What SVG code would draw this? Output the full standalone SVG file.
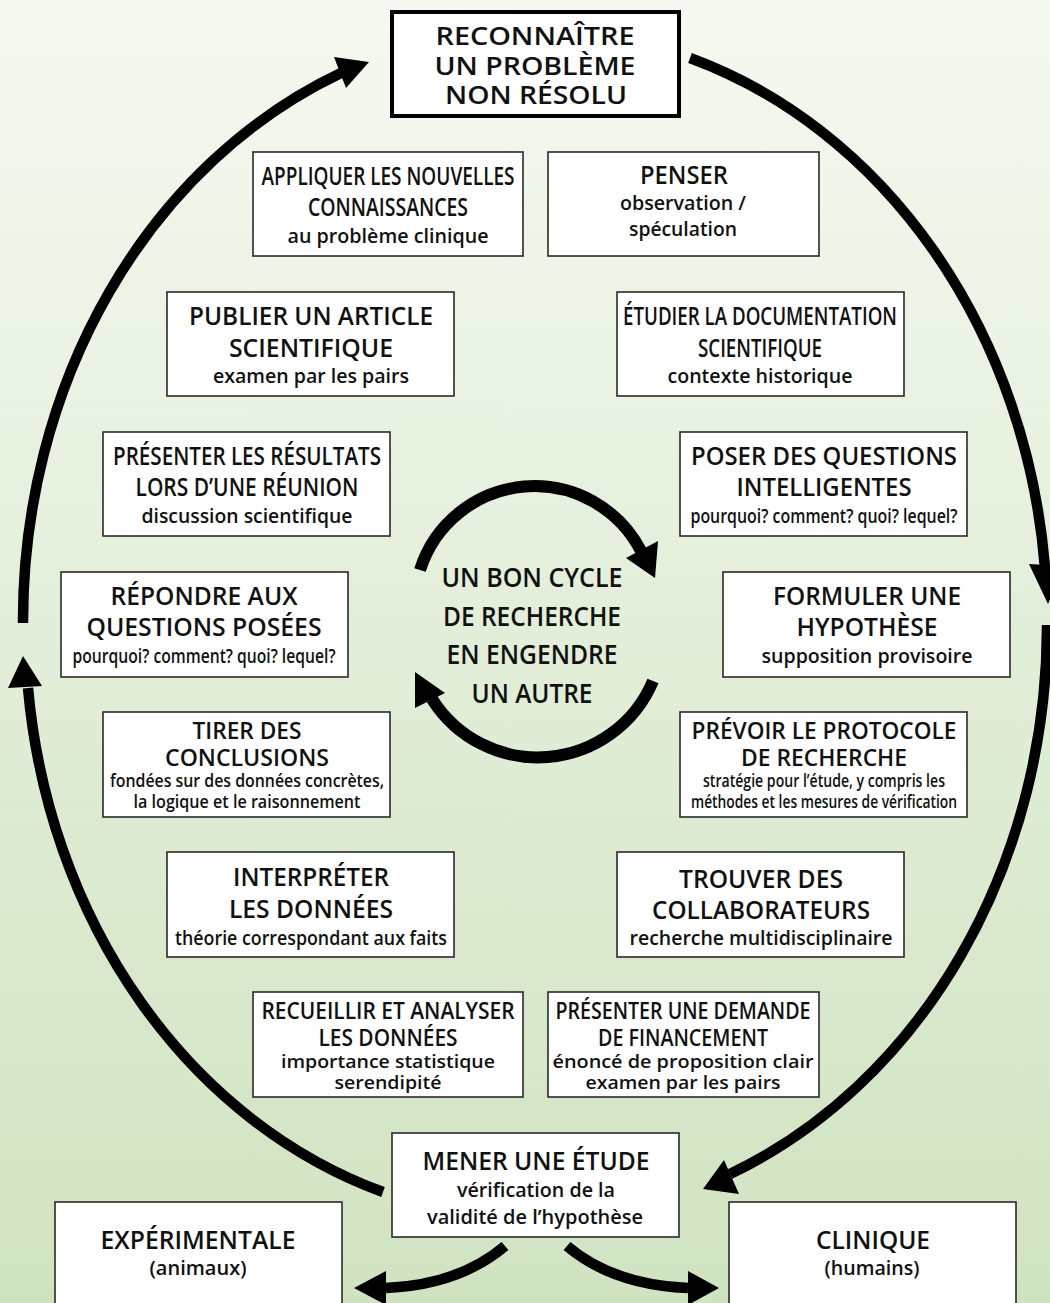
<svg xmlns="http://www.w3.org/2000/svg" width="1050" height="1303" viewBox="0 0 1050 1303">
<defs>
<linearGradient id="bg" x1="0" y1="0" x2="0" y2="1">
<stop offset="0" stop-color="#f5f9f1"/>
<stop offset="1" stop-color="#d0e3c1"/>
</linearGradient>
<style>
.box{fill:#fff;stroke:#2a2a2a;stroke-width:1.6}
.main{fill:#fff;stroke:#000;stroke-width:4}
text{font-family:"Open Sans","Noto Sans","DejaVu Sans",sans-serif;font-weight:600;fill:#111;text-anchor:middle}
.t{font-size:25px}
.s{font-size:20px}
.t4{font-size:23px}
.s4{font-size:18px}
.c{font-size:27px}
.arc{fill:none;stroke:#000;stroke-width:10.5}
.carc{fill:none;stroke:#000;stroke-width:12}
.head{fill:#000}
</style>
</defs>
<rect x="0" y="0" width="1050" height="1303" fill="url(#bg)"/>

<g id="connectors">
<path class="arc" d="M690,58 A512,592 0 0 1 1045,568"/>
<polygon class="head" points="1029,564 1064,566 1048,604"/>
<path class="arc" d="M1047,625 A512,592 0 0 1 730,1174"/>
<polygon class="head" points="724,1160 739,1194 703,1189"/>
<path class="arc" d="M383,1192 A512,592 0 0 1 28,688"/>
<polygon class="head" points="8,688 42,686 23,656"/>
<path class="arc" d="M23,623 A512,592 0 0 1 341,73"/>
<polygon class="head" points="334,57 346,88 369,62"/>
<path class="carc" d="M420,570 A120,120 0 0 1 641,551"/>
<polygon class="head" points="626,558 658,541 655,578"/>
<path class="carc" d="M653,681 A125,125 0 0 1 432,699"/>
<polygon class="head" points="445,693 415,708 415,672"/>
<path class="arc" d="M505,1246 C472,1274 432,1286 386,1288"/>
<polygon class="head" points="386,1271 386,1305 354,1288"/>
<path class="arc" d="M567,1246 C600,1274 640,1286 688,1288"/>
<polygon class="head" points="688,1271 688,1305 719,1288"/>
</g>

<g id="reconnaitre">
<rect class="main" x="392" y="12" width="287" height="104"/>
<text class="t" x="535" y="45" textLength="199" lengthAdjust="spacingAndGlyphs">RECONNAÎTRE</text>
<text class="t" x="535" y="75" textLength="201" lengthAdjust="spacingAndGlyphs">UN PROBLÈME</text>
<text class="t" x="536" y="104" textLength="182" lengthAdjust="spacingAndGlyphs">NON RÉSOLU</text>
</g>

<g id="appliquer">
<rect class="box" x="253" y="152" width="270" height="104"/>
<text class="t" x="388" y="185" textLength="253" lengthAdjust="spacingAndGlyphs">APPLIQUER LES NOUVELLES</text>
<text class="t" x="388" y="216" textLength="160" lengthAdjust="spacingAndGlyphs">CONNAISSANCES</text>
<text class="s" x="388" y="243" textLength="201" lengthAdjust="spacingAndGlyphs">au problème clinique</text>
</g>

<g id="penser">
<rect class="box" x="548" y="152" width="271" height="104"/>
<text class="t" x="684" y="184" textLength="88" lengthAdjust="spacingAndGlyphs">PENSER</text>
<text class="s" x="683" y="210" textLength="126" lengthAdjust="spacingAndGlyphs">observation /</text>
<text class="s" x="683" y="236" textLength="108" lengthAdjust="spacingAndGlyphs">spéculation</text>
</g>

<g id="publier">
<rect class="box" x="167" y="292" width="287" height="104"/>
<text class="t" x="311" y="325" textLength="244" lengthAdjust="spacingAndGlyphs">PUBLIER UN ARTICLE</text>
<text class="t" x="311" y="357" textLength="164" lengthAdjust="spacingAndGlyphs">SCIENTIFIQUE</text>
<text class="s" x="311" y="383" textLength="196" lengthAdjust="spacingAndGlyphs">examen par les pairs</text>
</g>

<g id="etudier">
<rect class="box" x="617" y="292" width="287" height="104"/>
<text class="t" x="760" y="325" textLength="274" lengthAdjust="spacingAndGlyphs">ÉTUDIER LA DOCUMENTATION</text>
<text class="t" x="760" y="357" textLength="124" lengthAdjust="spacingAndGlyphs">SCIENTIFIQUE</text>
<text class="s" x="760" y="383" textLength="185" lengthAdjust="spacingAndGlyphs">contexte historique</text>
</g>

<g id="presenter-resultats">
<rect class="box" x="103" y="432" width="287" height="104"/>
<text class="t" x="247" y="465" textLength="268" lengthAdjust="spacingAndGlyphs">PRÉSENTER LES RÉSULTATS</text>
<text class="t" x="247" y="496" textLength="223" lengthAdjust="spacingAndGlyphs">LORS D’UNE RÉUNION</text>
<text class="s" x="247" y="523" textLength="211" lengthAdjust="spacingAndGlyphs">discussion scientifique</text>
</g>

<g id="poser">
<rect class="box" x="680" y="432" width="287" height="104"/>
<text class="t" x="824" y="465" textLength="266" lengthAdjust="spacingAndGlyphs">POSER DES QUESTIONS</text>
<text class="t" x="824" y="496" textLength="175" lengthAdjust="spacingAndGlyphs">INTELLIGENTES</text>
<text class="s" x="824" y="523" textLength="267" lengthAdjust="spacingAndGlyphs">pourquoi? comment? quoi? lequel?</text>
</g>

<g id="repondre">
<rect class="box" x="61" y="572" width="287" height="105"/>
<text class="t" x="204" y="605" textLength="187" lengthAdjust="spacingAndGlyphs">RÉPONDRE AUX</text>
<text class="t" x="204" y="636" textLength="235" lengthAdjust="spacingAndGlyphs">QUESTIONS POSÉES</text>
<text class="s" x="204" y="663" textLength="263" lengthAdjust="spacingAndGlyphs">pourquoi? comment? quoi? lequel?</text>
</g>

<g id="formuler">
<rect class="box" x="723" y="572" width="287" height="105"/>
<text class="t" x="867" y="605" textLength="188" lengthAdjust="spacingAndGlyphs">FORMULER UNE</text>
<text class="t" x="867" y="636" textLength="141" lengthAdjust="spacingAndGlyphs">HYPOTHÈSE</text>
<text class="s" x="867" y="663" textLength="211" lengthAdjust="spacingAndGlyphs">supposition provisoire</text>
</g>

<g id="tirer">
<rect class="box" x="103" y="712" width="287" height="105"/>
<text class="t4" x="247" y="739" textLength="109" lengthAdjust="spacingAndGlyphs">TIRER DES</text>
<text class="t4" x="247" y="766" textLength="164" lengthAdjust="spacingAndGlyphs">CONCLUSIONS</text>
<text class="s4" x="247" y="787" textLength="274" lengthAdjust="spacingAndGlyphs">fondées sur des données concrètes,</text>
<text class="s4" x="247" y="808" textLength="227" lengthAdjust="spacingAndGlyphs">la logique et le raisonnement</text>
</g>

<g id="prevoir">
<rect class="box" x="680" y="712" width="287" height="105"/>
<text class="t4" x="824" y="739" textLength="265" lengthAdjust="spacingAndGlyphs">PRÉVOIR LE PROTOCOLE</text>
<text class="t4" x="824" y="766" textLength="166" lengthAdjust="spacingAndGlyphs">DE RECHERCHE</text>
<text class="s4" x="824" y="787" textLength="242" lengthAdjust="spacingAndGlyphs">stratégie pour l’étude, y compris les</text>
<text class="s4" x="824" y="808" textLength="266" lengthAdjust="spacingAndGlyphs">méthodes et les mesures de vérification</text>
</g>

<g id="interpreter">
<rect class="box" x="167" y="852" width="287" height="105"/>
<text class="t" x="311" y="886" textLength="156" lengthAdjust="spacingAndGlyphs">INTERPRÉTER</text>
<text class="t" x="311" y="918" textLength="164" lengthAdjust="spacingAndGlyphs">LES DONNÉES</text>
<text class="s" x="311" y="945" textLength="272" lengthAdjust="spacingAndGlyphs">théorie correspondant aux faits</text>
</g>

<g id="trouver">
<rect class="box" x="617" y="852" width="287" height="105"/>
<text class="t" x="761" y="888" textLength="164" lengthAdjust="spacingAndGlyphs">TROUVER DES</text>
<text class="t" x="761" y="919" textLength="218" lengthAdjust="spacingAndGlyphs">COLLABORATEURS</text>
<text class="s" x="761" y="945" textLength="263" lengthAdjust="spacingAndGlyphs">recherche multidisciplinaire</text>
</g>

<g id="recueillir">
<rect class="box" x="253" y="992" width="270" height="105"/>
<text class="t4" x="388" y="1019" textLength="253" lengthAdjust="spacingAndGlyphs">RECUEILLIR ET ANALYSER</text>
<text class="t4" x="388" y="1046" textLength="139" lengthAdjust="spacingAndGlyphs">LES DONNÉES</text>
<text class="s4" x="388" y="1068" textLength="214" lengthAdjust="spacingAndGlyphs">importance statistique</text>
<text class="s4" x="388" y="1089" textLength="107" lengthAdjust="spacingAndGlyphs">serendipité</text>
</g>

<g id="financement">
<rect class="box" x="548" y="992" width="271" height="105"/>
<text class="t4" x="683" y="1019" textLength="255" lengthAdjust="spacingAndGlyphs">PRÉSENTER UNE DEMANDE</text>
<text class="t4" x="683" y="1046" textLength="170" lengthAdjust="spacingAndGlyphs">DE FINANCEMENT</text>
<text class="s4" x="683" y="1068" textLength="261" lengthAdjust="spacingAndGlyphs">énoncé de proposition clair</text>
<text class="s4" x="683" y="1089" textLength="195" lengthAdjust="spacingAndGlyphs">examen par les pairs</text>
</g>

<g id="mener">
<rect class="box" x="392" y="1133" width="287" height="104"/>
<text class="t" x="536" y="1170" textLength="227" lengthAdjust="spacingAndGlyphs">MENER UNE ÉTUDE</text>
<text class="s" x="536" y="1197" textLength="158" lengthAdjust="spacingAndGlyphs">vérification de la</text>
<text class="s" x="535" y="1224" textLength="216" lengthAdjust="spacingAndGlyphs">validité de l’hypothèse</text>
</g>

<g id="experimentale">
<rect class="box" x="55" y="1202" width="287" height="110"/>
<text class="t" x="198" y="1249" textLength="195" lengthAdjust="spacingAndGlyphs">EXPÉRIMENTALE</text>
<text class="s" x="198" y="1275" textLength="97" lengthAdjust="spacingAndGlyphs">(animaux)</text>
</g>

<g id="clinique">
<rect class="box" x="729" y="1202" width="287" height="110"/>
<text class="t" x="873" y="1249" textLength="114" lengthAdjust="spacingAndGlyphs">CLINIQUE</text>
<text class="s" x="872" y="1275" textLength="95" lengthAdjust="spacingAndGlyphs">(humains)</text>
</g>

<g id="cycle-label">
<text class="c" x="532" y="587" textLength="181" lengthAdjust="spacingAndGlyphs">UN BON CYCLE</text>
<text class="c" x="532" y="626" textLength="178" lengthAdjust="spacingAndGlyphs">DE RECHERCHE</text>
<text class="c" x="532" y="664" textLength="171" lengthAdjust="spacingAndGlyphs">EN ENGENDRE</text>
<text class="c" x="532" y="703" textLength="121" lengthAdjust="spacingAndGlyphs">UN AUTRE</text>
</g>
</svg>
